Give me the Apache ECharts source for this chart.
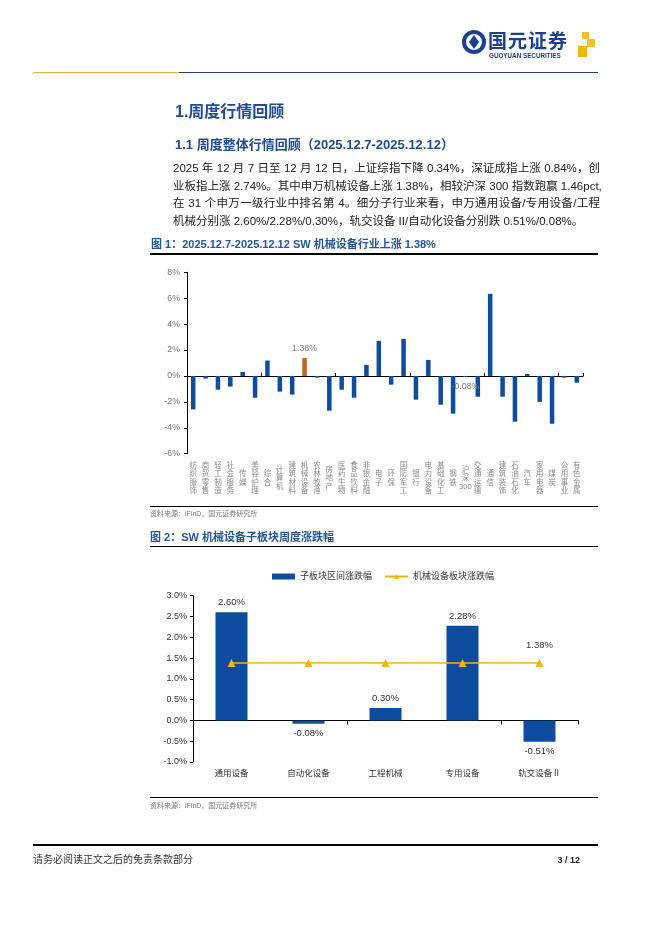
<!DOCTYPE html>
<html>
<head>
<meta charset="utf-8">
<script src="https://cdn.jsdelivr.net/npm/echarts@6/dist/echarts.min.js"></script>
<style>
  html,body{margin:0;padding:0;background:#fff;}
  body{width:662px;height:936px;position:relative;overflow:hidden;}
  #chart{position:absolute;left:0;top:0;width:662px;height:936px;}
  .t{position:absolute;white-space:nowrap;font-family:"Liberation Sans","Noto Sans CJK SC",sans-serif;}
  .rule{position:absolute;background:#000;}
  .para{position:absolute;left:173px;width:427px;font-size:11.5px;line-height:17.4px;color:#222;font-family:"Liberation Sans","Noto Sans CJK SC",sans-serif;white-space:nowrap;}
  .j{text-align:justify;text-align-last:justify;}
</style>
</head>
<body>
<div id="chart"></div>

<!-- header -->
<svg style="position:absolute;left:462px;top:29px" width="140" height="34" viewBox="0 0 140 34">
  <circle cx="12" cy="13" r="10" fill="none" stroke="#1c3f8f" stroke-width="4"/>
  <path d="M12 6 L17 13 L12 20 L7 13 Z" fill="#1c3f8f"/>
  <rect x="120" y="3" width="7" height="7" fill="#f2c12e"/>
  <rect x="125" y="10" width="8" height="8" fill="#f2c12e"/>
  <rect x="116" y="17" width="9" height="11" fill="#f2b705"/>
</svg>
<div class="t" style="left:488px;top:31px;font-size:19px;line-height:22px;font-weight:bold;color:#1c3f8f;letter-spacing:1px;">国元证券</div>
<div class="t" style="left:489px;top:52px;font-size:6.3px;line-height:8px;font-weight:bold;color:#1c3f8f;">GUOYUAN SECURITIES</div>
<div class="rule" style="left:33px;top:71.5px;width:146px;height:1.5px;background:#f0b33a;"></div>
<div class="rule" style="left:179px;top:71.5px;width:419px;height:1.5px;background:#1f3f8f;"></div>

<!-- headings -->
<div class="t" style="left:175px;top:102px;font-size:16px;line-height:20px;font-weight:bold;color:#1f4a96;">1.周度行情回顾</div>
<div class="t" style="left:175px;top:137px;font-size:13px;line-height:16px;font-weight:bold;color:#1f4a96;">1.1 周度整体行情回顾（2025.12.7-2025.12.12）</div>

<div class="para j" style="top:160.3px;">2025 年 12 月 7 日至 12 月 12 日，上证综指下降 0.34%，深证成指上涨 0.84%，创</div>
<div class="para j" style="top:177.7px;">业板指上涨 2.74%。其中申万机械设备上涨 1.38%，相较沪深 300 指数跑赢 1.46pct,</div>
<div class="para j" style="top:195.1px;">在 31 个申万一级行业中排名第 4。细分子行业来看，申万通用设备/专用设备/工程</div>
<div class="para" style="top:212.5px;">机械分别涨 2.60%/2.28%/0.30%，轨交设备 II/自动化设备分别跌 0.51%/0.08%。</div>

<!-- figure 1 frame -->
<div class="t" style="left:151px;top:237.5px;font-size:11px;line-height:13px;font-weight:bold;color:#24569f;">图 1：2025.12.7-2025.12.12 SW 机械设备行业上涨 1.38%</div>
<div class="rule" style="left:150px;top:253.3px;width:448px;height:1.4px;"></div>
<div class="rule" style="left:150px;top:506px;width:448px;height:1.4px;"></div>
<div class="t" style="left:150px;top:509px;font-size:7px;line-height:9px;color:#777;">资料来源：iFinD，国元证券研究所</div>

<!-- figure 2 frame -->
<div class="t" style="left:150px;top:530.5px;font-size:11px;line-height:13px;font-weight:bold;color:#24569f;">图 2：SW 机械设备子板块周度涨跌幅</div>
<div class="rule" style="left:150px;top:546px;width:448px;height:1.4px;"></div>
<div class="rule" style="left:150px;top:796.5px;width:448px;height:1.4px;"></div>
<div class="t" style="left:150px;top:801px;font-size:7px;line-height:9px;color:#777;">资料来源：iFinD，国元证券研究所</div>

<!-- footer -->
<div class="rule" style="left:33px;top:844px;width:565px;height:2px;"></div>
<div class="t" style="left:33px;top:854px;font-size:10px;line-height:12px;color:#333;">请务必阅读正文之后的免责条款部分</div>
<div class="t" style="left:540px;width:40px;text-align:right;top:854px;font-size:9px;line-height:12px;font-weight:bold;color:#222;">3 / 12</div>

<script>
// ---------- data ----------
const industryCats = ['纺织服饰','商贸零售','轻工制造','社会服务','传媒','美容护理','综合','计算机','建筑材料','机械设备','农林牧渔','房地产','医药生物','食品饮料','非银金融','电子','环保','国防军工','银行','电力设备','基础化工','钢铁','沪深300','交通运输','通信','建筑装饰','石油石化','汽车','家用电器','煤炭','公用事业','有色金属'];
const industryVals = [-2.58,-0.20,-1.06,-0.82,0.31,-1.68,1.19,-1.21,-1.44,1.38,-0.13,-2.68,-1.06,-1.68,0.85,2.71,-0.67,2.86,-1.83,1.24,-2.22,-2.91,-0.08,-1.60,6.34,-1.60,-3.53,0.15,-2.00,-3.69,-0.13,-0.52];
const highlightCat = '机械设备';
const labelledCats = ['机械设备','沪深300'];
const fig1Ticks = [-6,-4,-2,0,2,4,6,8];

const subCats = ['通用设备','自动化设备','工程机械','专用设备','轨交设备Ⅱ'];
const subVals = [2.60,-0.08,0.30,2.28,-0.51];
const sectorVals = [1.38,1.38,1.38,1.38,1.38];
const fig2Ticks = [-1.0,-0.5,0.0,0.5,1.0,1.5,2.0,2.5,3.0];
const seriesNames = ['子板块区间涨跌幅','机械设备板块涨跌幅'];

// ---------- chart ----------
const BLUE = '#0d4c9e', ORANGE = '#c8611c', GOLD = '#f3b507';
const FONT = '"Liberation Sans","Noto Sans CJK SC",sans-serif';
const chart = echarts.init(document.getElementById('chart'), null, {renderer:'canvas'});

const bar1Data = industryVals.map((v,i)=>{
  const c = industryCats[i];
  const o = {value:v};
  if (c === highlightCat) o.itemStyle = {color: ORANGE};
  if (labelledCats.includes(c)) o.label = {show:true, position: v>=0?'top':'bottom', distance:5};
  return o;
});
const bar2Data = subVals.map(v=>({value:v, label:{position: v>=0?'top':'bottom'}}));

const option = {
  animation:false,
  textStyle:{fontFamily:FONT},
  legend:{
    data:[{name:seriesNames[0], icon:'rect'}, {name:seriesNames[1]}],
    left:267, top:567, itemWidth:23, itemHeight:6, itemGap:12,
    textStyle:{fontSize:9, color:'#333', fontFamily:FONT}
  },
  grid:[
    {left:187, top:272.3, width:396, height:181.4},
    {left:193, top:595.7, width:385, height:166.3}
  ],
  xAxis:[
    {gridIndex:0, type:'category', data:industryCats, position:'bottom',
     axisLine:{onZero:true, lineStyle:{color:'#000', width:1}},
     axisTick:{show:true, inside:true, length:3, lineStyle:{color:'#000'}},
     axisLabel:{show:false}, splitLine:{show:false}},
    {gridIndex:0, type:'category', data:industryCats, position:'bottom',
     axisLine:{show:false, onZero:false}, axisTick:{show:false}, splitLine:{show:false},
     axisLabel:{interval:0, fontSize:7.5, lineHeight:8.3, color:'#8a8a8a', margin:24.6, verticalAlign:'middle',
       formatter: n => n.match(/[0-9]+|./g).join('\n')}},
    {gridIndex:1, type:'category', data:subCats, position:'bottom',
     axisLine:{onZero:true, lineStyle:{color:'#000', width:1}},
     axisTick:{show:true, inside:false, length:4, lineStyle:{color:'#000'}},
     axisLabel:{show:false}, splitLine:{show:false}},
    {gridIndex:1, type:'category', data:subCats, position:'bottom',
     axisLine:{show:false, onZero:false}, axisTick:{show:false}, splitLine:{show:false},
     axisLabel:{interval:0, fontSize:8.5, color:'#333', margin:12, verticalAlign:'middle'}}
  ],
  yAxis:[
    {gridIndex:0, type:'value', min:fig1Ticks[0], max:fig1Ticks[fig1Ticks.length-1], interval:2,
     axisLine:{show:true, lineStyle:{color:'#000', width:1}},
     axisTick:{show:true, length:3, lineStyle:{color:'#000'}},
     splitLine:{show:false},
     axisLabel:{formatter:'{value}%', fontSize:8.8, color:'#7a7a7a', margin:7}},
    {gridIndex:1, type:'value', min:fig2Ticks[0], max:fig2Ticks[fig2Ticks.length-1], interval:0.5,
     axisLine:{show:true, lineStyle:{color:'#000', width:1}},
     axisTick:{show:true, length:3, lineStyle:{color:'#000'}},
     splitLine:{show:false},
     axisLabel:{formatter: v => v.toFixed(1)+'%', fontSize:9, color:'#333', margin:6}}
  ],
  series:[
    {type:'bar', xAxisIndex:0, yAxisIndex:0, data:bar1Data, barWidth:4.5,
     itemStyle:{color:BLUE},
     label:{show:false, formatter: p => p.value.toFixed(2)+'%', fontSize:8.8, color:'#7a7a7a'}},
    {type:'bar', name:seriesNames[0], xAxisIndex:2, yAxisIndex:1, data:bar2Data, barWidth:32,
     itemStyle:{color:BLUE},
     label:{show:true, formatter: p => p.value.toFixed(2)+'%', fontSize:9.5, color:'#333', distance:5}},
    {type:'line', name:seriesNames[1], xAxisIndex:2, yAxisIndex:1,
     data: sectorVals.map((v,i)=>({value:v, label:{show: i===sectorVals.length-1}})),
     symbol:'triangle', symbolSize:8, color:GOLD,
     itemStyle:{color:GOLD}, lineStyle:{color:GOLD, width:1.5},
     label:{show:false, position:'top', distance:9, formatter: p => p.value.toFixed(2)+'%', fontSize:9.5, color:'#333'}}
  ]
};
chart.setOption(option);
</script>
</body>
</html>
